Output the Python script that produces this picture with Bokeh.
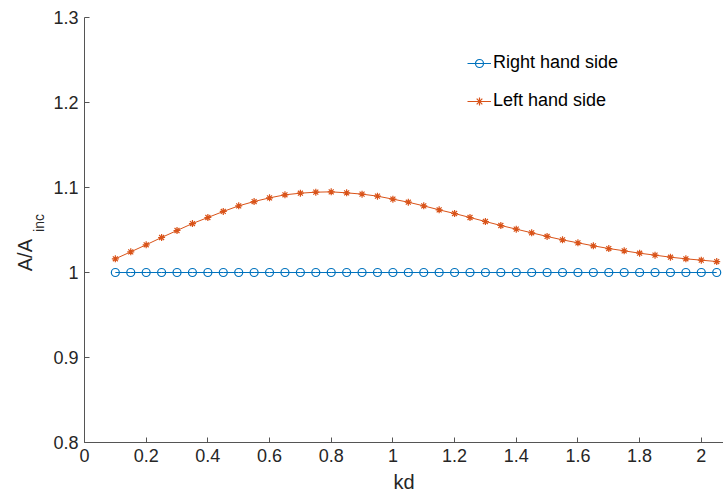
import math
from bokeh.plotting import figure
from bokeh.models import Range1d, Legend, LegendItem, FixedTicker, LinearAxis
from bokeh.embed import file_html
from bokeh.resources import INLINE

kd = [0.10, 0.15, 0.20, 0.25, 0.30, 0.35, 0.40, 0.45, 0.50, 0.55,
      0.60, 0.65, 0.70, 0.75, 0.80, 0.85, 0.90, 0.95, 1.00, 1.05,
      1.10, 1.15, 1.20, 1.25, 1.30, 1.35, 1.40, 1.45, 1.50, 1.55,
      1.60, 1.65, 1.70, 1.75, 1.80, 1.85, 1.90, 1.95, 2.00, 2.05]
right_hand = [1.0, 1.0, 1.0, 1.0, 1.0, 1.0, 1.0, 1.0, 1.0, 1.0,
              1.0, 1.0, 1.0, 1.0, 1.0, 1.0, 1.0, 1.0, 1.0, 1.0,
              1.0, 1.0, 1.0, 1.0, 1.0, 1.0, 1.0, 1.0, 1.0, 1.0,
              1.0, 1.0, 1.0, 1.0, 1.0, 1.0, 1.0, 1.0, 1.0, 1.0]
left_hand = [1.0161, 1.0243, 1.0326, 1.0412, 1.0494, 1.0576, 1.0647, 1.0718, 1.0784, 1.0835,
             1.0878, 1.0914, 1.0933, 1.0945, 1.0949, 1.0937, 1.0922, 1.0898, 1.0863, 1.0827,
             1.0784, 1.0737, 1.0694, 1.0647, 1.0600, 1.0553, 1.0510, 1.0467, 1.0424, 1.0384,
             1.0349, 1.0314, 1.0282, 1.0255, 1.0227, 1.0204, 1.0180, 1.0161, 1.0145, 1.0129]
x_ticks = [0, 0.2, 0.4, 0.6, 0.8, 1.0, 1.2, 1.4, 1.6, 1.8, 2.0]
y_ticks = [0.8, 0.9, 1.0, 1.1, 1.2, 1.3]
series_names = ["Right hand side", "Left hand side"]
y_label_main = "A/A"
y_label_sub = "inc"

BLUE = "#0072BD"
ORANGE = "#D95319"
FONT = "Liberation Sans"

p = figure(width=723, height=497, output_backend="svg", toolbar_location=None,
           x_range=Range1d(0, 2.072), y_range=Range1d(0.8, 1.3),
           min_border_left=79, min_border_right=0, min_border_top=17,
           min_border_bottom=55)
p.outline_line_color = None
p.xgrid.visible = False
p.ygrid.visible = False

for ax in (p.xaxis[0], p.yaxis[0]):
    ax.axis_line_color = "#555555"
    ax.major_tick_line_color = "#555555"
    ax.major_tick_in = 5
    ax.major_tick_out = 0
    ax.minor_tick_line_color = None
    ax.major_label_text_font = FONT
    ax.major_label_text_font_size = "18px"
    ax.major_label_text_color = "#262626"

p.yaxis.major_label_standoff = 6
p.xaxis.major_label_standoff = 6
p.xaxis.ticker = FixedTicker(ticks=x_ticks)
p.yaxis.ticker = FixedTicker(ticks=y_ticks)
p.xaxis.major_label_overrides = {0: "0", 1.0: "1", 2.0: "2"}
p.yaxis.major_label_overrides = {1.0: "1"}
p.xaxis.axis_label = "kd"
p.xaxis.axis_label_text_font = FONT
p.xaxis.axis_label_text_font_style = "normal"
p.xaxis.axis_label_text_font_size = "20px"
p.xaxis.axis_label_text_color = "#262626"
p.xaxis.axis_label_standoff = 6


def label_axis(text, size, at, standoff):
    # an extra, invisible axis whose single tick label serves as the text
    ax = LinearAxis(ticker=FixedTicker(ticks=[at]),
                    major_label_overrides={at: text},
                    major_label_orientation=math.pi / 2,
                    axis_line_color=None, major_tick_line_color=None,
                    minor_tick_line_color=None, major_tick_out=0,
                    major_tick_in=0, minor_tick_out=0,
                    major_label_text_font=FONT,
                    major_label_text_font_size=size,
                    major_label_text_color="#262626",
                    major_label_standoff=standoff)
    p.add_layout(ax, "left")
    return ax


label_axis(y_label_sub, "14px", 1.0688, 11)
label_axis(y_label_main, "20px", 1.0394, -5)

r1l = p.line(kd, right_hand, line_color=BLUE, line_width=1)
r1m = p.scatter(kd, right_hand, marker="circle", size=8, line_color=BLUE,
                fill_color=None, line_width=1.2)
r2l = p.line(kd, left_hand, line_color=ORANGE, line_width=1)
r2m = p.scatter(kd, left_hand, marker="asterisk", size=7, line_color=ORANGE,
                line_width=1.2)

legend = Legend(items=[LegendItem(label=series_names[0], renderers=[r1l, r1m]),
                       LegendItem(label=series_names[1], renderers=[r2l, r2m])],
                location=(383, 331), border_line_color=None,
                background_fill_alpha=0, label_text_font=FONT,
                label_text_font_size="18px", label_text_color="#000000",
                glyph_width=24, label_standoff=2, spacing=17, padding=0)
p.add_layout(legend, "center")

open("out.html", "w").write(file_html(p, INLINE))
